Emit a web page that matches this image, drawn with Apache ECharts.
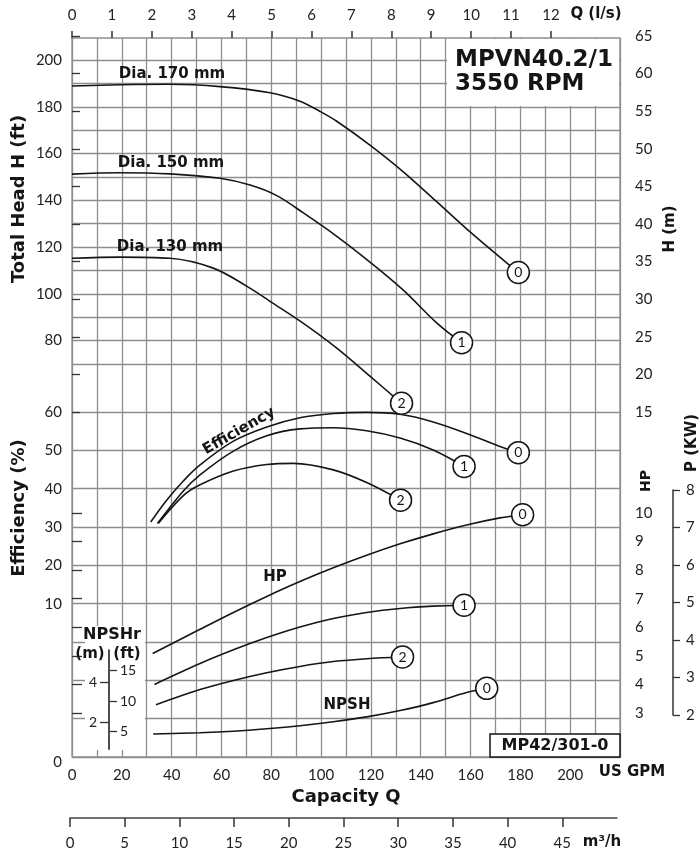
<!DOCTYPE html>
<html>
<head>
<meta charset="utf-8">
<title>MPVN40.2/1 3550 RPM</title>
<script src="https://cdn.jsdelivr.net/npm/echarts@6/dist/echarts.min.js"></script>
<style>html,body{margin:0;background:#fff}</style>
</head>
<body>
<div id="chart" style="width:700px;height:857px;"></div>
<script>
// ---------------- data (x = US GPM) ----------------
var headGpm0 = [0, 19.3, 39.3, 59.4, 79.5, 91.5, 99.6, 106.3, 119.6, 133, 146.4, 159.8, 179.2];
var headFt0 = [188.9, 189.4, 189.6, 188.6, 186.0, 182.4, 178.0, 173.8, 163.6, 152.2, 139.4, 126.5, 109.1];
var headGpm1 = [0, 19.3, 39.3, 59.4, 71.5, 82.2, 92.9, 106.3, 119.6, 133, 146.4, 156.4];
var headFt1 = [151.2, 151.8, 151.3, 149.4, 146.5, 142.0, 134.6, 124.6, 113.6, 101.6, 87.6, 79.1];
var headGpm2 = [0, 19.3, 39.3, 56.7, 70.1, 79.5, 92.9, 106.3, 119.6, 132.3];
var headFt2 = [115.2, 115.7, 115.2, 111.0, 103.3, 96.8, 87.4, 76.8, 64.8, 53.2];

var effGpm0 = [31.6, 38, 44.7, 51.4, 64.8, 78.2, 91.5, 104.9, 118.3, 131.7, 145, 158.4, 171.8, 179.2];
var effPct0 = [31.3, 37.0, 42.0, 46.2, 52.4, 56.1, 58.5, 59.6, 59.9, 59.4, 57.4, 54.4, 51.0, 49.4];
var effGpm1 = [34.3, 44.7, 51.4, 64.8, 78.2, 91.5, 104.9, 118.3, 131.7, 145, 157.4];
var effPct1 = [30.9, 39.4, 43.6, 49.8, 53.8, 55.6, 55.9, 55.1, 53.2, 50.1, 45.8];
var effGpm2 = [34.7, 44.7, 51.4, 64.8, 78.2, 88.9, 104.9, 118.3, 131.9];
var effPct2 = [31.0, 38.2, 41.0, 44.6, 46.3, 46.6, 44.9, 41.6, 37.0];

var hpGpm0 = [32.4, 51.4, 64.8, 78.2, 91.5, 104.9, 118.3, 131.7, 145, 158.4, 171.8, 180.9];
var hpVal0 = [5.08, 5.93, 6.52, 7.08, 7.60, 8.08, 8.52, 8.92, 9.27, 9.58, 9.83, 9.94];
var hpGpm1 = [33.1, 51.4, 64.8, 78.2, 91.5, 104.9, 118.3, 131.7, 145, 157.4];
var hpVal1 = [4.0, 4.73, 5.21, 5.64, 6.01, 6.31, 6.52, 6.66, 6.74, 6.77];
var hpGpm2 = [33.7, 51.4, 64.8, 78.2, 91.5, 104.9, 118.3, 132.7];
var hpVal2 = [3.29, 3.82, 4.14, 4.41, 4.63, 4.80, 4.90, 4.96];

var npshGpm = [32.6, 51.4, 64.8, 78.2, 91.5, 104.9, 118.3, 131.7, 145, 158.4, 166.5];
var npshFt = [4.6, 4.8, 5.05, 5.45, 5.95, 6.6, 7.4, 8.45, 9.75, 11.4, 12.1];

// ---------------- tick labels ----------------
var gpmTicks = [0, 20, 40, 60, 80, 100, 120, 140, 160, 180, 200];
var lsTicks = [0, 1, 2, 3, 4, 5, 6, 7, 8, 9, 10, 11, 12];
var m3hTicks = [0, 5, 10, 15, 20, 25, 30, 35, 40, 45];
var ftTicks = [80, 100, 120, 140, 160, 180, 200];
var effTicks = [10, 20, 30, 40, 50, 60];
var mTicks = [15, 20, 25, 30, 35, 40, 45, 50, 55, 60, 65];
var hpTicks = [3, 4, 5, 6, 7, 8, 9, 10];
var kwTicks = [2, 3, 4, 5, 6, 7, 8];
var npshFtTicks = [5, 10, 15];
var npshMTicks = [2, 4];

// ---------------- layout ----------------
var H = 857;
var GRIDC = '#8e8e8e';
var INK = '#151515';
var LBL = {fontFamily: 'Lato', fontSize: 15, color: '#222'};
var BOLD = '"DejaVu Sans"';

// NPSH scale: 0 ft at y=761.9, 20 ft at y=640.3
var npshTopY = 640.3, npshZeroY = 761.9;
var pxPerFt = (npshZeroY - npshTopY) / 20;
var insetTop = 650, insetBot = 749.3;
var insetFtMax = (npshZeroY - insetTop) / pxPerFt;
var insetFtMin = (npshZeroY - insetBot) / pxPerFt;

var myChart = echarts.init(document.getElementById('chart'));

function only(list) {
    return function (v) { return list.indexOf(Math.round(v * 1000) / 1000) >= 0 ? String(v) : ''; };
}

function lbl(extra) {
    return Object.assign({}, LBL, extra || {});
}

function curve(xs, ys, tag, xi, yi) {
    var data = xs.map(function (x, i) { return [x, ys[i]]; });
    var last = data.pop();
    data.push({
        value: last,
        symbol: 'circle',
        symbolSize: 22,
        itemStyle: {color: '#fff', borderColor: INK, borderWidth: 1.5},
        label: {show: true, position: 'inside', formatter: tag, fontFamily: 'Lato', fontSize: 14, color: INK}
    });
    return {
        type: 'line', xAxisIndex: xi, yAxisIndex: yi, data: data,
        symbol: 'none', smooth: 0.35, clip: false, silent: true, z: 3,
        lineStyle: {color: INK, width: 1.6}
    };
}

function hiddenX(g, max) {
    return {gridIndex: g, type: 'value', min: 0, max: max, show: false};
}

function txt(str, x, y, size, rot, align) {
    return {
        type: 'text', x: x, y: y, rotation: rot || 0, z: 10,
        style: {
            text: str, font: 'bold ' + size + 'px ' + BOLD, fill: INK,
            align: align || 'center', verticalAlign: 'middle',
            textAlign: align || 'center', textVerticalAlign: 'middle'
        }
    };
}

var option = {
    backgroundColor: '#fff',
    animation: false,
    grid: [
        {left: 72, right: 80, top: 38, bottom: H - 757, show: true, borderColor: GRIDC, borderWidth: 1.3},
        {left: 72, right: 80, top: 60, bottom: H - 364},
        {left: 72, right: 80, top: 412, bottom: H - 757},
        {left: 72, right: 80, top: 36, bottom: H - 412},
        {left: 72, right: 80, top: 513, bottom: H - 713},
        {left: 673, right: 26, top: 490, bottom: H - 715},
        {left: 72, right: 80, top: npshTopY, bottom: H - npshZeroY},
        {left: 109, right: 590, top: insetTop, bottom: H - insetBot},
        {left: 70, right: 83, top: 817, bottom: H - 818}
    ],
    xAxis: [
        {
            gridIndex: 0, type: 'value', min: 0, max: 220, interval: 10, position: 'bottom',
            axisLine: {show: false}, axisTick: {show: false},
            splitLine: {show: true, lineStyle: {color: GRIDC, width: 1.3}},
            axisLabel: lbl({margin: 11, formatter: only(gpmTicks)}),
            name: 'Capacity Q', nameLocation: 'middle', nameGap: 31,
            nameTextStyle: {fontFamily: BOLD, fontWeight: 'bold', fontSize: 18, color: INK}
        },
        {
            gridIndex: 0, type: 'value', min: 0, max: 13.73, position: 'top',
            axisLine: {show: false}, splitLine: {show: false},
            axisTick: {show: true, length: 7, customValues: lsTicks, lineStyle: {color: '#333', width: 1.5}},
            axisLabel: lbl({margin: 15, customValues: lsTicks})
        },
        hiddenX(1, 220), hiddenX(2, 220), hiddenX(3, 220), hiddenX(4, 220),
        hiddenX(5, 1), hiddenX(6, 220), hiddenX(7, 1),
        {
            gridIndex: 8, type: 'value', min: 0, max: 50, position: 'bottom',
            axisLine: {show: true, lineStyle: {color: '#444', width: 1.5}},
            axisTick: {show: true, length: 9, customValues: m3hTicks, lineStyle: {color: '#333', width: 1.5}},
            axisLabel: lbl({margin: 18, customValues: m3hTicks}),
            splitLine: {show: false}
        }
    ],
    yAxis: [
        {gridIndex: 0, type: 'value', min: 0, max: 1, show: false},
        {
            gridIndex: 1, type: 'value', min: 70, max: 200, interval: 10, position: 'left',
            axisLine: {show: false}, axisTick: {show: false},
            splitLine: {show: true, lineStyle: {color: GRIDC, width: 1.3}},
            axisLabel: lbl({margin: 10, formatter: only(ftTicks)})
        },
        {
            gridIndex: 2, type: 'value', min: -30, max: 60, interval: 10, position: 'left',
            axisLine: {show: false}, axisTick: {show: false},
            splitLine: {show: true, lineStyle: {color: GRIDC, width: 1.3}},
            axisLabel: lbl({margin: 10, formatter: only(effTicks)})
        },
        {
            gridIndex: 3, type: 'value', min: 15, max: 65, interval: 5, position: 'right',
            axisLine: {show: false}, splitLine: {show: false},
            axisTick: {show: true, length: 8, lineStyle: {color: '#333', width: 1.3}},
            axisLabel: lbl({margin: 15, formatter: only(mTicks)})
        },
        {
            gridIndex: 4, type: 'value', min: 3, max: 10, interval: 1, position: 'right',
            axisLine: {show: false}, splitLine: {show: false},
            axisTick: {show: true, length: 10, lineStyle: {color: '#333', width: 1.3}},
            axisLabel: lbl({margin: 15, formatter: only(hpTicks)})
        },
        {
            gridIndex: 5, type: 'value', min: 2, max: 8, interval: 1, position: 'left',
            axisLine: {show: true, lineStyle: {color: '#333', width: 1.5}}, splitLine: {show: false},
            axisTick: {show: true, inside: true, length: 7, lineStyle: {color: '#333', width: 1.3}},
            axisLabel: lbl({inside: true, margin: 13, formatter: only(kwTicks)})
        },
        {
            gridIndex: 6, type: 'value', min: 0, max: 20, interval: 5, position: 'left',
            axisLine: {show: false}, axisTick: {show: false}, splitLine: {show: false},
            axisLabel: lbl({margin: 10, formatter: function (v) { return v === 0 ? '0' : ''; }})
        },
        {
            gridIndex: 7, type: 'value', position: 'left', z: 12,
            min: insetFtMin / 3.281, max: insetFtMax / 3.281,
            axisLine: {show: true, lineStyle: {color: '#222', width: 1.6}}, splitLine: {show: false},
            axisTick: {show: true, length: 9, customValues: npshMTicks, lineStyle: {color: '#333', width: 1.3}},
            axisLabel: lbl({fontSize: 14, margin: 12, customValues: npshMTicks})
        },
        {
            gridIndex: 7, type: 'value', position: 'right', z: 12,
            min: insetFtMin, max: insetFtMax,
            axisLine: {show: false}, splitLine: {show: false},
            axisTick: {show: true, length: 7, customValues: npshFtTicks, lineStyle: {color: '#333', width: 1.3}},
            axisLabel: lbl({fontSize: 14, margin: 10, customValues: npshFtTicks})
        },
        {gridIndex: 8, type: 'value', min: 0, max: 1, show: false}
    ],
    graphic: [
        // white patches over the grid (title box, NPSHr inset, drawing number)
        {type: 'rect', z: 8, shape: {x: 447, y: 39, width: 172, height: 67}, style: {fill: '#fff'}},
        {type: 'rect', z: 8, shape: {x: 85, y: 626, width: 60, height: 124}, style: {fill: '#fff'}},
        {type: 'rect', z: 8, shape: {x: 490, y: 734, width: 130, height: 23}, style: {fill: '#fff', stroke: INK, lineWidth: 1.5}},
        txt('MPVN40.2/1', 455, 60, 23, 0, 'left'),
        txt('3550 RPM', 455, 84, 23, 0, 'left'),
        txt('MP42/301-0', 555, 746, 16),
        txt('Total Head H (ft)', 19, 199, 18, Math.PI / 2),
        txt('Efficiency (%)', 19, 508, 18, Math.PI / 2),
        txt('H (m)', 670, 229, 15, Math.PI / 2),
        txt('HP', 646, 481, 14, Math.PI / 2),
        txt('P (KW)', 692, 443, 15, Math.PI / 2),
        txt('Q (l/s)', 596, 14, 15),
        txt('US GPM', 632, 772, 15),
        txt('m\u00b3/h', 602, 842, 15),
        txt('NPSHr', 112, 635, 16),
        txt('(m)', 90, 654, 15),
        txt('(ft)', 127, 654, 15),
        txt('Dia. 170 mm', 172, 74, 15),
        txt('Dia. 150 mm', 171, 163, 15),
        txt('Dia. 130 mm', 170, 247, 15),
        txt('Efficiency', 239, 431, 15, 0.52),
        txt('HP', 275, 577, 15),
        txt('NPSH', 347, 705, 15)
    ],
    series: [
        curve(headGpm0, headFt0, '0', 2, 1),
        curve(headGpm1, headFt1, '1', 2, 1),
        curve(headGpm2, headFt2, '2', 2, 1),
        curve(effGpm0, effPct0, '0', 3, 2),
        curve(effGpm1, effPct1, '1', 3, 2),
        curve(effGpm2, effPct2, '2', 3, 2),
        curve(hpGpm0, hpVal0, '0', 5, 4),
        curve(hpGpm1, hpVal1, '1', 5, 4),
        curve(hpGpm2, hpVal2, '2', 5, 4),
        curve(npshGpm, npshFt, '0', 7, 6)
    ]
};

myChart.setOption(option);
</script>
</body>
</html>
